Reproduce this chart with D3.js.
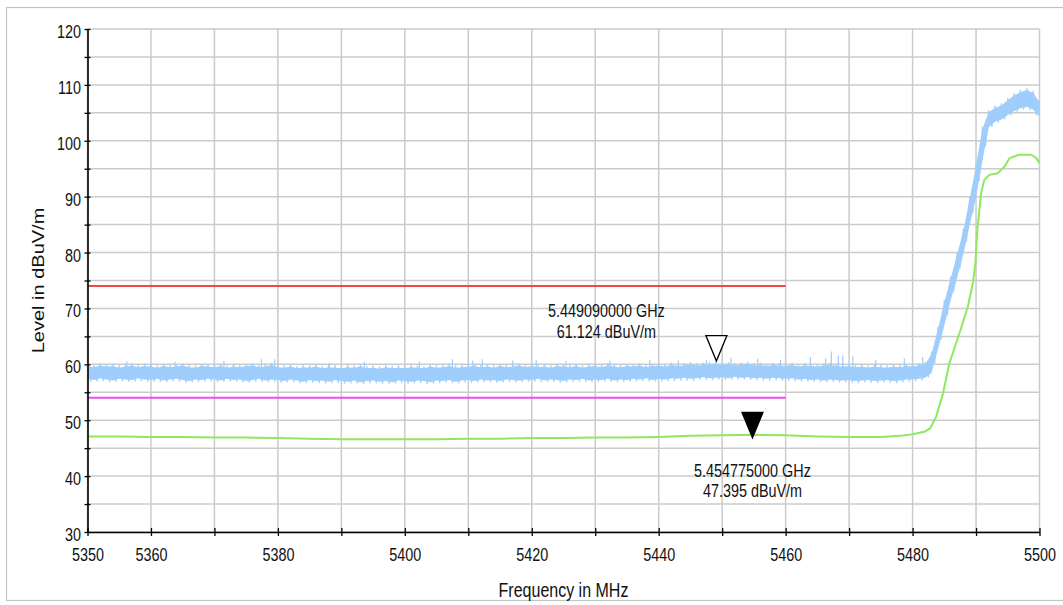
<!DOCTYPE html>
<html><head><meta charset="utf-8">
<script src="https://cdn.jsdelivr.net/npm/d3@7"></script>
<style>
html,body{margin:0;padding:0;background:#fff;}
svg{display:block;font-family:"Liberation Sans",Arial,sans-serif;}
</style></head><body>
<svg id="chart" width="1063" height="605"></svg>
<script>
// ---- axis setup ----
const freqDomain = [5350, 5500];
const levelDomain = [30, 120];
const freqTicks = d3.range(5350, 5501, 10);
const freqLabels = [5350, 5360, 5380, 5400, 5420, 5440, 5460, 5480, 5500];
const levelTicks = d3.range(30, 121, 5);
const levelLabels = d3.range(30, 121, 10);

// ---- peak trace (max-hold), 1 MHz bins from 5350 to 5500: upper and lower edge of the noise band ----
const peakStartMHz = 5350;
const peakHigh = [
  60.1,59.9,60.2,60.0,60.1,59.8,60.0,60.2,59.9,60.1,
  60.0,59.8,60.1,59.9,60.0,60.2,59.9,59.8,60.1,60.0,
  59.9,60.1,59.8,60.0,59.9,60.1,60.2,59.9,60.0,60.3,
  59.9,59.8,60.0,59.7,59.9,59.8,60.0,59.7,59.9,59.8,
  59.7,59.9,59.8,60.0,59.7,59.8,59.6,59.9,59.7,59.8,
  59.7,59.9,59.8,59.7,60.0,59.8,59.9,60.1,59.8,59.9,
  60.0,60.1,59.9,60.0,59.8,60.1,59.9,60.0,60.2,59.9,
  60.1,59.9,60.0,59.8,60.1,60.0,59.9,60.1,59.8,60.0,
  60.1,59.9,60.2,60.0,59.9,60.1,60.0,60.2,59.9,60.1,
  60.2,60.0,60.3,60.1,60.2,60.4,60.2,60.3,60.4,60.5,
  60.3,60.4,60.2,60.3,60.5,60.2,60.3,60.1,60.3,60.2,
  60.1,60.3,60.0,60.2,60.1,60.0,60.2,60.3,60.1,60.0,
  60.1,59.9,60.0,59.8,60.0,59.9,59.8,60.0,59.9,60.1,
  60.0,60.2,60.4,62.3,66.7,71.5,75.7,80.0,84.3,90.0,
  96.0,102.5,105.5,106.3,106.7,107.7,108.5,109.1,109.5,109.0,
  107.3
];
const peakLow = [
  57.0,56.8,57.1,56.9,56.7,57.0,56.9,56.8,57.1,56.9,
  56.8,57.0,56.7,56.9,57.0,56.8,56.6,56.9,56.8,57.0,
  56.9,56.7,57.0,56.8,56.9,56.6,56.8,57.0,56.7,56.9,
  56.8,56.6,56.9,56.7,56.5,56.8,56.6,56.7,56.5,56.8,
  56.6,56.5,56.7,56.4,56.6,56.7,56.5,56.6,56.4,56.7,
  56.6,56.5,56.7,56.6,56.4,56.7,56.6,56.8,56.5,56.7,
  56.8,56.6,56.9,56.7,56.8,56.6,56.9,56.8,56.7,56.9,
  56.8,57.0,56.7,56.9,56.8,56.6,56.9,56.8,57.0,56.7,
  56.9,56.8,57.0,56.7,56.9,56.8,57.0,56.9,57.1,56.8,
  57.0,56.9,57.1,57.0,57.2,57.0,57.1,57.3,57.1,57.2,
  57.3,57.1,57.4,57.2,57.3,57.1,57.2,57.0,57.2,57.1,
  57.0,57.1,56.9,57.0,56.8,56.9,56.7,56.9,56.8,56.7,
  56.8,56.6,56.7,56.8,56.6,56.7,56.8,56.6,56.7,56.9,
  56.9,57.0,57.2,58.1,62.3,66.5,71.0,75.0,79.3,84.5,
  89.5,96.0,102.0,103.0,103.4,104.2,104.9,105.4,105.7,105.2,
  103.9
];
// isolated noise spikes above the band
const spikeFreq  = [5356.2,5363.8,5371.5,5377.4,5379.5,5388.1,5393.6,5402.3,5407.5,5410.7,5412.2,5417.0,5420.7,
                    5425.4,5432.3,5438.6,5443.1,5447.5,5451.4,5455.6,5459.2,5463.9,5466.3,5467.2,5468.3,5469.0,
                    5470.6,5474.2,5478.7,5481.6];
const spikeLevel = [60.5,60.4,60.6,60.9,60.9,60.3,60.4,60.5,60.9,60.7,60.9,60.7,60.8,
                    60.6,60.7,60.8,60.7,60.8,61.2,61.0,60.8,61.3,61.1,62.3,61.6,61.6,
                    61.4,60.8,61.1,61.3];

// ---- average trace ----
const avgFreq  = [5350,5355,5360,5365,5370,5375,5380,5385,5390,5395,5400,5405,5410,5415,5420,5425,5430,5435,
                  5440,5445,5450,5455,5460,5465,5470,5475,5478,5480,5482,5482.8,5483.7,5484.8,5485.8,5487.4,
                  5488.7,5489.5,5489.9,5490.2,5490.8,5491.3,5492.1,5493.4,5494.5,5495.3,5496.8,5498.7,5499.5,5500];
const avgLevel = [47.1,47.1,47.0,47.0,46.9,46.9,46.8,46.7,46.6,46.6,46.6,46.6,46.7,46.7,46.8,46.8,46.9,46.9,
                  47.0,47.2,47.3,47.4,47.3,47.1,47.0,47.0,47.2,47.5,48.0,48.6,50.6,54.8,60.2,65.6,
                  70.3,74.5,78.1,84.0,90.6,93.0,93.9,94.2,95.4,96.9,97.5,97.5,96.9,96.0];

// ---- limit lines ----
const limitLevel = [74, 54];
const limitColor = ["#f04848", "#f04ef0"];
const limitFromMHz = 5350, limitToMHz = 5460;

// ---- markers ----
const markerGHz   = [5.449090000, 5.454775000];
const markerLevel = [61.124, 47.395];
const markerFilled = [false, true];

// ---- drawing ----
const svg = d3.select("#chart");
const x = d3.scaleLinear().domain(freqDomain).range([87.5, 1039.5]);
const y = d3.scaleLinear().domain(levelDomain).range([532, 29]);
const GRID = "#cbcbcb", BLUE = "#9fcdfc", GREEN = "#8ee860";

// squeeze text horizontally around its anchor point
function squeeze(sel, k) {
  sel.each(function () {
    const t = d3.select(this);
    const x0 = +t.attr("x") || 0;
    t.attr("transform", `translate(${x0},0) scale(${k},1) translate(${-x0},0)`);
  });
}

// outer frame
svg.append("rect").attr("x", 6.5).attr("y", 7.5).attr("width", 1080).attr("height", 593)
  .attr("fill", "none").attr("stroke", "#c4c4c4").attr("stroke-width", 1.2);

// grid
const grid = svg.append("g");
grid.selectAll("line.h").data(levelTicks).join("line").attr("class", "h")
  .attr("x1", x(freqDomain[0])).attr("x2", x(freqDomain[1]))
  .attr("y1", d => y(d)).attr("y2", d => y(d))
  .attr("stroke", GRID).attr("stroke-width", 1.5);
grid.selectAll("line.v").data(freqTicks).join("line").attr("class", "v")
  .attr("y1", y(levelDomain[0])).attr("y2", y(levelDomain[1]))
  .attr("x1", d => x(d)).attr("x2", d => x(d))
  .attr("stroke", GRID).attr("stroke-width", 1.5);

// limit lines
svg.append("g").selectAll("line").data(limitLevel).join("line")
  .attr("x1", x(limitFromMHz)).attr("x2", x(limitToMHz))
  .attr("y1", d => y(d)).attr("y2", d => y(d))
  .attr("stroke", (d, i) => limitColor[i]).attr("stroke-width", 2);

// peak trace: solid core of the noise band plus a min/max zigzag for its ragged edges
const peakData = peakHigh.map((h, i) => ({ f: peakStartMHz + i, hi: h, lo: peakLow[i] }));
const core = d3.area().x(d => x(d.f))
  .y0(d => y(d.lo + Math.min(0.4, (d.hi - d.lo) / 4)))
  .y1(d => y(d.hi - Math.min(0.4, (d.hi - d.lo) / 4)));
svg.append("path").datum(peakData).attr("d", core).attr("fill", BLUE);
const zig = [];
peakData.forEach((d, i) => {
  zig.push([d.f, d.hi]);
  if (i < peakData.length - 1) zig.push([d.f + 0.5, (d.lo + peakData[i + 1].lo) / 2]);
});
svg.append("path").datum(zig)
  .attr("d", d3.line().x(d => x(d[0])).y(d => y(d[1])))
  .attr("fill", "none").attr("stroke", BLUE).attr("stroke-width", 1.1).attr("opacity", 0.9);
const highAt = f => {
  const i = Math.floor(f - peakStartMHz), t = f - peakStartMHz - i;
  return peakHigh[i] * (1 - t) + peakHigh[Math.min(i + 1, peakHigh.length - 1)] * t;
};
svg.append("g").selectAll("line").data(spikeFreq).join("line")
  .attr("x1", d => x(d)).attr("x2", d => x(d))
  .attr("y1", d => y(highAt(d) - 0.6)).attr("y2", (d, i) => y(spikeLevel[i]))
  .attr("stroke", BLUE).attr("stroke-width", 1.2);

// average trace
const avgLine = d3.line().x((d, i) => x(avgFreq[i])).y(d => y(d));
svg.append("path").datum(avgLevel).attr("d", avgLine)
  .attr("fill", "none").attr("stroke", GREEN).attr("stroke-width", 2).attr("stroke-linejoin", "round");

// axes
const xAxis = d3.axisBottom(x).tickValues(freqTicks).tickSizeInner(4).tickSizeOuter(0)
  .tickFormat(d => freqLabels.includes(d) ? d3.format("d")(d) : "");
const gx = svg.append("g").attr("transform", `translate(0,${y(levelDomain[0])})`).call(xAxis);
gx.select(".domain").attr("stroke", "#000").attr("stroke-width", 1.6);
gx.selectAll(".tick line").attr("y1", -4).attr("y2", 4).attr("stroke", "#000").attr("stroke-width", 1.3);
gx.selectAll(".tick text").attr("y", 29.5).attr("dy", 0).attr("fill", "#111")
  .style("font-size", "18px").call(squeeze, 0.8);

const yAxis = d3.axisLeft(y).tickValues(levelTicks).tickSizeInner(3).tickSizeOuter(0)
  .tickFormat(d => levelLabels.includes(d) ? d3.format("d")(d) : "");
const gy = svg.append("g").attr("transform", `translate(${x(freqDomain[0])},0)`).call(yAxis);
gy.select(".domain").attr("stroke", "#000").attr("stroke-width", 1.6);
gy.selectAll(".tick line").attr("x1", 3).attr("x2", -3).attr("stroke", "#000").attr("stroke-width", 1.3);
gy.selectAll(".tick text").attr("x", -6.5).attr("dy", "0.47em").attr("fill", "#111")
  .style("font-size", "18px").call(squeeze, 0.8);
svg.selectAll(".tick text").attr("font-family", null);

// axis titles
svg.append("text").attr("x", 563.5).attr("y", 597).attr("text-anchor", "middle")
  .style("font-size", "20px").attr("fill", "#111").text("Frequency in MHz").call(squeeze, 0.8);
svg.append("text").attr("transform", "translate(44,280.5) scale(0.8,1) rotate(-90)")
  .attr("text-anchor", "middle").style("font-size", "20px").attr("fill", "#111").text("Level in dBuV/m");

// markers
const labelPlacement = [{ dx: -110, dy: [-41.3, -20.3] }, { dx: 0, dy: [42, 62] }];
markerGHz.forEach((g, i) => {
  const mx = x(g * 1000), my = y(markerLevel[i]) + 3;
  svg.append("path")
    .attr("d", `M${mx},${my}L${mx - 10.5},${my - 25.5}L${mx + 10.5},${my - 25.5}Z`)
    .attr("fill", markerFilled[i] ? "#000" : "#fff").attr("stroke", "#000").attr("stroke-width", 1.3);
  const p = labelPlacement[i], cx = mx + p.dx, base = y(markerLevel[i]);
  const lines = [`${g.toFixed(9)} GHz`, `${markerLevel[i].toFixed(3)} dBuV/m`];
  lines.forEach((s, k) => {
    svg.append("text").attr("x", cx).attr("y", base + p.dy[k]).attr("text-anchor", "middle")
      .style("font-size", "18px").attr("fill", "#111").text(s).call(squeeze, 0.8);
  });
});
</script>
</body></html>
